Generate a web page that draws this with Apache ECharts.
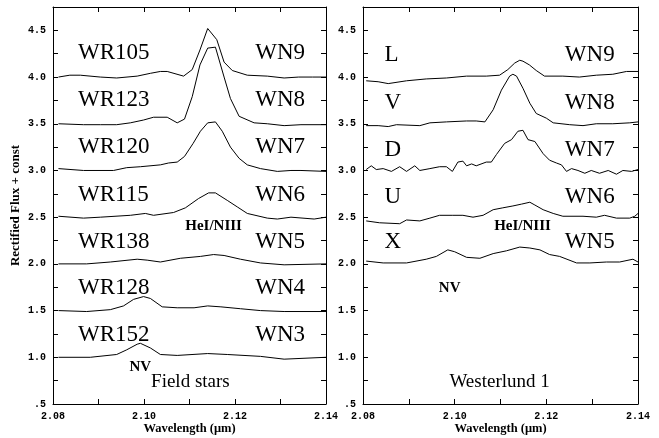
<!DOCTYPE html>
<html><head><meta charset="utf-8">
<script src="https://cdn.jsdelivr.net/npm/echarts@6/dist/echarts.min.js"></script>
<style>html,body{margin:0;padding:0;background:#fff}#c{width:659px;height:438px}</style>
</head><body><div id="c"></div>
<script>
// ---------- data (wavelength in micron, rectified flux + const) ----------
const WR105 = [[2.0812,4.00],[2.0837,4.02],[2.0860,4.02],[2.0904,4.00],[2.0940,3.99],[2.0985,4.01],[2.1014,4.04],[2.1036,4.06],[2.1051,4.06],[2.1087,4.01],[2.1106,4.08],[2.1123,4.29],[2.1140,4.52],[2.1160,4.40],[2.1176,4.16],[2.1194,4.07],[2.1227,4.02],[2.1271,4.01],[2.1308,3.99],[2.1340,4.00],[2.1370,4.00],[2.1400,4.00]];
const WR123 = [[2.0812,3.50],[2.0867,3.49],[2.0904,3.49],[2.0940,3.49],[2.0970,3.51],[2.0999,3.54],[2.1021,3.57],[2.1051,3.57],[2.1073,3.51],[2.1089,3.55],[2.1106,3.79],[2.1123,4.13],[2.1140,4.31],[2.1157,4.32],[2.1176,4.00],[2.1190,3.77],[2.1209,3.58],[2.1242,3.51],[2.1271,3.50],[2.1308,3.48],[2.1345,3.49],[2.1400,3.49]];
const WR120 = [[2.0812,3.02],[2.0867,3.00],[2.0933,3.00],[2.0962,3.03],[2.0992,3.04],[2.1036,3.06],[2.1054,3.08],[2.1073,3.09],[2.1089,3.15],[2.1108,3.29],[2.1124,3.42],[2.1140,3.51],[2.1157,3.52],[2.1172,3.42],[2.1190,3.25],[2.1209,3.13],[2.1227,3.06],[2.1256,3.02],[2.1293,2.99],[2.1323,3.00],[2.1345,3.00],[2.1400,2.99]];
const WR115 = [[2.0812,2.51],[2.0867,2.49],[2.0904,2.50],[2.0970,2.52],[2.1003,2.54],[2.1021,2.52],[2.1065,2.55],[2.1091,2.60],[2.1120,2.70],[2.1142,2.76],[2.1157,2.76],[2.1183,2.68],[2.1205,2.61],[2.1227,2.54],[2.1271,2.49],[2.1293,2.48],[2.1323,2.50],[2.1374,2.48],[2.1400,2.50]];
const WR138 = [[2.0812,2.00],[2.0874,2.00],[2.0926,2.02],[2.0985,2.05],[2.1007,2.04],[2.1036,2.02],[2.1080,2.06],[2.1124,2.08],[2.1153,2.10],[2.1176,2.09],[2.1212,2.05],[2.1256,2.01],[2.1308,1.99],[2.1400,2.00]];
const WR128 = [[2.0812,1.50],[2.0874,1.49],[2.0926,1.51],[2.0955,1.55],[2.0977,1.62],[2.0999,1.65],[2.1014,1.63],[2.1040,1.54],[2.1073,1.53],[2.1110,1.53],[2.1140,1.55],[2.1169,1.54],[2.1212,1.52],[2.1256,1.50],[2.1308,1.49],[2.1400,1.49]];
const WR152 = [[2.0812,1.00],[2.0882,1.00],[2.0940,1.03],[2.0962,1.08],[2.0985,1.14],[2.0992,1.15],[2.1014,1.10],[2.1036,1.03],[2.1073,1.02],[2.1140,1.04],[2.1183,1.03],[2.1256,1.01],[2.1308,0.98],[2.1400,1.00]];

const starL = [[2.0807,3.96],[2.0833,3.95],[2.0855,3.93],[2.0895,3.96],[2.0938,3.98],[2.0982,3.99],[2.1026,4.01],[2.1069,4.01],[2.1098,4.02],[2.1116,4.08],[2.1131,4.15],[2.1142,4.18],[2.1149,4.17],[2.1163,4.13],[2.1178,4.07],[2.1196,4.01],[2.1236,4.01],[2.1272,4.00],[2.1309,4.02],[2.1345,4.03],[2.1375,4.06],[2.1400,4.06]];
const starV = [[2.0807,3.48],[2.0833,3.48],[2.0855,3.47],[2.0873,3.49],[2.0924,3.48],[2.0946,3.51],[2.0982,3.52],[2.1026,3.53],[2.1047,3.53],[2.1066,3.52],[2.1084,3.65],[2.1102,3.86],[2.1120,4.01],[2.1127,4.03],[2.1135,4.01],[2.1149,3.88],[2.1164,3.72],[2.1178,3.61],[2.1200,3.56],[2.1215,3.51],[2.1251,3.49],[2.1280,3.48],[2.1309,3.50],[2.1345,3.50],[2.1382,3.51],[2.1400,3.52]];
const starD = [[2.0807,3.01],[2.0818,3.05],[2.0829,3.01],[2.0844,3.02],[2.0862,2.99],[2.0880,3.04],[2.0895,2.99],[2.0913,3.05],[2.0924,3.00],[2.0946,3.02],[2.0967,3.04],[2.0982,3.04],[2.0995,2.99],[2.1007,3.09],[2.1018,3.10],[2.1026,3.05],[2.1037,3.07],[2.1047,3.05],[2.1069,3.09],[2.1080,3.09],[2.1091,3.17],[2.1109,3.29],[2.1124,3.33],[2.1138,3.42],[2.1149,3.43],[2.1160,3.33],[2.1175,3.31],[2.1193,3.18],[2.1207,3.11],[2.1222,3.08],[2.1233,3.06],[2.1244,2.99],[2.1255,3.02],[2.1269,3.00],[2.1284,2.97],[2.1298,3.00],[2.1316,2.97],[2.1335,3.00],[2.1353,2.96],[2.1367,3.00],[2.1386,2.99],[2.1400,3.01]];
const starU = [[2.0807,2.46],[2.0836,2.44],[2.0880,2.43],[2.0895,2.47],[2.0924,2.46],[2.0946,2.49],[2.0967,2.52],[2.0996,2.52],[2.1018,2.52],[2.1040,2.50],[2.1062,2.52],[2.1084,2.58],[2.1105,2.60],[2.1127,2.62],[2.1146,2.64],[2.1164,2.66],[2.1175,2.63],[2.1193,2.58],[2.1215,2.54],[2.1236,2.51],[2.1280,2.51],[2.1309,2.50],[2.1327,2.52],[2.1353,2.49],[2.1382,2.49],[2.1393,2.51],[2.1400,2.54]];
const starX = [[2.0807,2.03],[2.0844,2.01],[2.0895,2.01],[2.0938,2.05],[2.0960,2.08],[2.0985,2.15],[2.1000,2.13],[2.1026,2.07],[2.1055,2.06],[2.1084,2.11],[2.1113,2.14],[2.1142,2.18],[2.1164,2.17],[2.1186,2.15],[2.1207,2.10],[2.1229,2.08],[2.1266,2.01],[2.1295,2.01],[2.1331,2.02],[2.1360,2.02],[2.1389,2.05],[2.1400,2.02]];

const leftSeries = [WR105, WR123, WR120, WR115, WR138, WR128, WR152];
const rightSeries = [starL, starV, starD, starU, starX];
const leftNames = ['WR105','WR123','WR120','WR115','WR138','WR128','WR152'];
const leftTypes = ['WN9','WN8','WN7','WN6','WN5','WN4','WN3'];
const rightNames = ['L','V','D','U','X'];
const rightTypes = ['WN9','WN8','WN7','WN6','WN5'];
const xTickLabels = ['2.08','2.10','2.12','2.14'];
const yTickLabels = ['.5','1.0','1.5','2.0','2.5','3.0','3.5','4.0','4.5'];

// ---------- layout ----------
const leftRowY = [4.26, 3.75, 3.25, 2.74, 2.23, 1.74, 1.24];
const rightRowY = [4.24, 3.72, 3.22, 2.72, 2.24];
const BIG = '23px "Liberation Serif"';
const MID = 'bold 15px "Liberation Serif"';
const CAP = '19px "Liberation Serif"';

function annotations(panel) {
  const a = [];
  if (panel === 0) {
    leftNames.forEach((t, i) => a.push([2.0855, leftRowY[i], t, 'left', BIG]));
    leftTypes.forEach((t, i) => a.push([2.1354, leftRowY[i], t, 'right', BIG]));
    a.push([2.1153, 2.40, 'HeI/NIII', 'center', MID]);
    a.push([2.0992, 0.90, 'NV', 'center', MID]);
    a.push([2.1102, 0.735, 'Field stars', 'center', CAP]);
  } else {
    rightNames.forEach((t, i) => a.push([2.0847, rightRowY[i], t, 'left', BIG]));
    rightTypes.forEach((t, i) => a.push([2.1349, rightRowY[i], t, 'right', BIG]));
    a.push([2.1148, 2.40, 'HeI/NIII', 'center', MID]);
    a.push([2.0989, 1.74, 'NV', 'center', MID]);
    a.push([2.1098, 0.735, 'Westerlund 1', 'center', CAP]);
  }
  return a;
}

const near = (v, step) => Math.abs(v / step - Math.round(v / step)) < 1e-6;
const tickFont = { fontFamily: 'Liberation Mono', fontWeight: 'bold', fontSize: 10, color: '#000' };
const line = { show: true, lineStyle: { color: '#000', width: 1 } };
const tick = { show: true, inside: true, length: 5, lineStyle: { color: '#000', width: 1 } };

const xAxes = [], yAxes = [];
[0, 1].forEach(g => {
  xAxes.push({
    type: 'value', gridIndex: g, position: 'bottom', min: 2.08, max: 2.14, interval: 0.01,
    axisLine: line, axisTick: tick, splitLine: { show: false },
    axisLabel: Object.assign({ margin: 7, showMinLabel: true, showMaxLabel: true,
      formatter: v => { if (!near(v, 0.02)) return ''; const s = v.toFixed(2); return xTickLabels.includes(s) ? s : ''; } }, tickFont),
    name: 'Wavelength (\u03bcm)', nameLocation: 'middle', nameGap: 18, nameMoveOverlap: false,
    nameTextStyle: { fontFamily: 'Liberation Serif', fontWeight: 'bold', fontSize: 12.5, color: '#000' }
  });
  xAxes.push({
    type: 'value', gridIndex: g, position: 'top', min: 2.08, max: 2.14, interval: 0.01,
    axisLine: line, axisTick: tick, splitLine: { show: false }, axisLabel: { show: false }
  });
  yAxes.push({
    type: 'value', gridIndex: g, position: 'left', min: 0.5, max: 4.75, interval: 0.25,
    axisLine: line, axisTick: tick, splitLine: { show: false },
    axisLabel: Object.assign({ margin: 7,
      formatter: v => { if (!near(v, 0.5)) return ''; const s = v === 0.5 ? '.5' : v.toFixed(1); return yTickLabels.includes(s) ? s : ''; } }, tickFont),
    name: g === 0 ? 'Rectified Flux + const' : '', nameLocation: 'middle', nameGap: 31, nameRotate: 90, nameMoveOverlap: false,
    nameTextStyle: { fontFamily: 'Liberation Serif', fontWeight: 'bold', fontSize: 13, color: '#000' }
  });
  yAxes.push({
    type: 'value', gridIndex: g, position: 'right', min: 0.5, max: 4.75, interval: 0.25,
    axisLine: line, axisTick: tick, splitLine: { show: false }, axisLabel: { show: false }
  });
});

const series = [];
leftSeries.forEach(d => series.push({ type: 'line', xAxisIndex: 0, yAxisIndex: 0, data: d, showSymbol: false, symbol: 'none',
  lineStyle: { color: '#000', width: 1 }, animation: false, silent: true }));
rightSeries.forEach(d => series.push({ type: 'line', xAxisIndex: 2, yAxisIndex: 2, data: d, showSymbol: false, symbol: 'none',
  lineStyle: { color: '#000', width: 1 }, animation: false, silent: true }));
[0, 1].forEach(p => {
  const ann = annotations(p);
  series.push({
    type: 'custom', xAxisIndex: p * 2, yAxisIndex: p * 2, silent: true, animation: false, clip: false,
    data: ann.map(a => [a[0], a[1]]),
    renderItem: (params, api) => {
      const a = ann[params.dataIndex];
      const pt = api.coord([api.value(0), api.value(1)]);
      return { type: 'text', x: pt[0], y: pt[1],
        style: { text: a[2], font: a[4], align: a[3], verticalAlign: 'middle', fill: '#000' } };
    }
  });
});

const chart = echarts.init(document.getElementById('c'), null, { renderer: 'canvas' });
chart.setOption({
  backgroundColor: '#fff',
  animation: false,
  grid: [
    { left: 53, right: 333, top: 7, bottom: 34, containLabel: false, outerBoundsMode: 'none' },
    { left: 363, right: 21, top: 7, bottom: 34, containLabel: false, outerBoundsMode: 'none' }
  ],
  xAxis: xAxes,
  yAxis: yAxes,
  series: series
});
</script></body></html>
